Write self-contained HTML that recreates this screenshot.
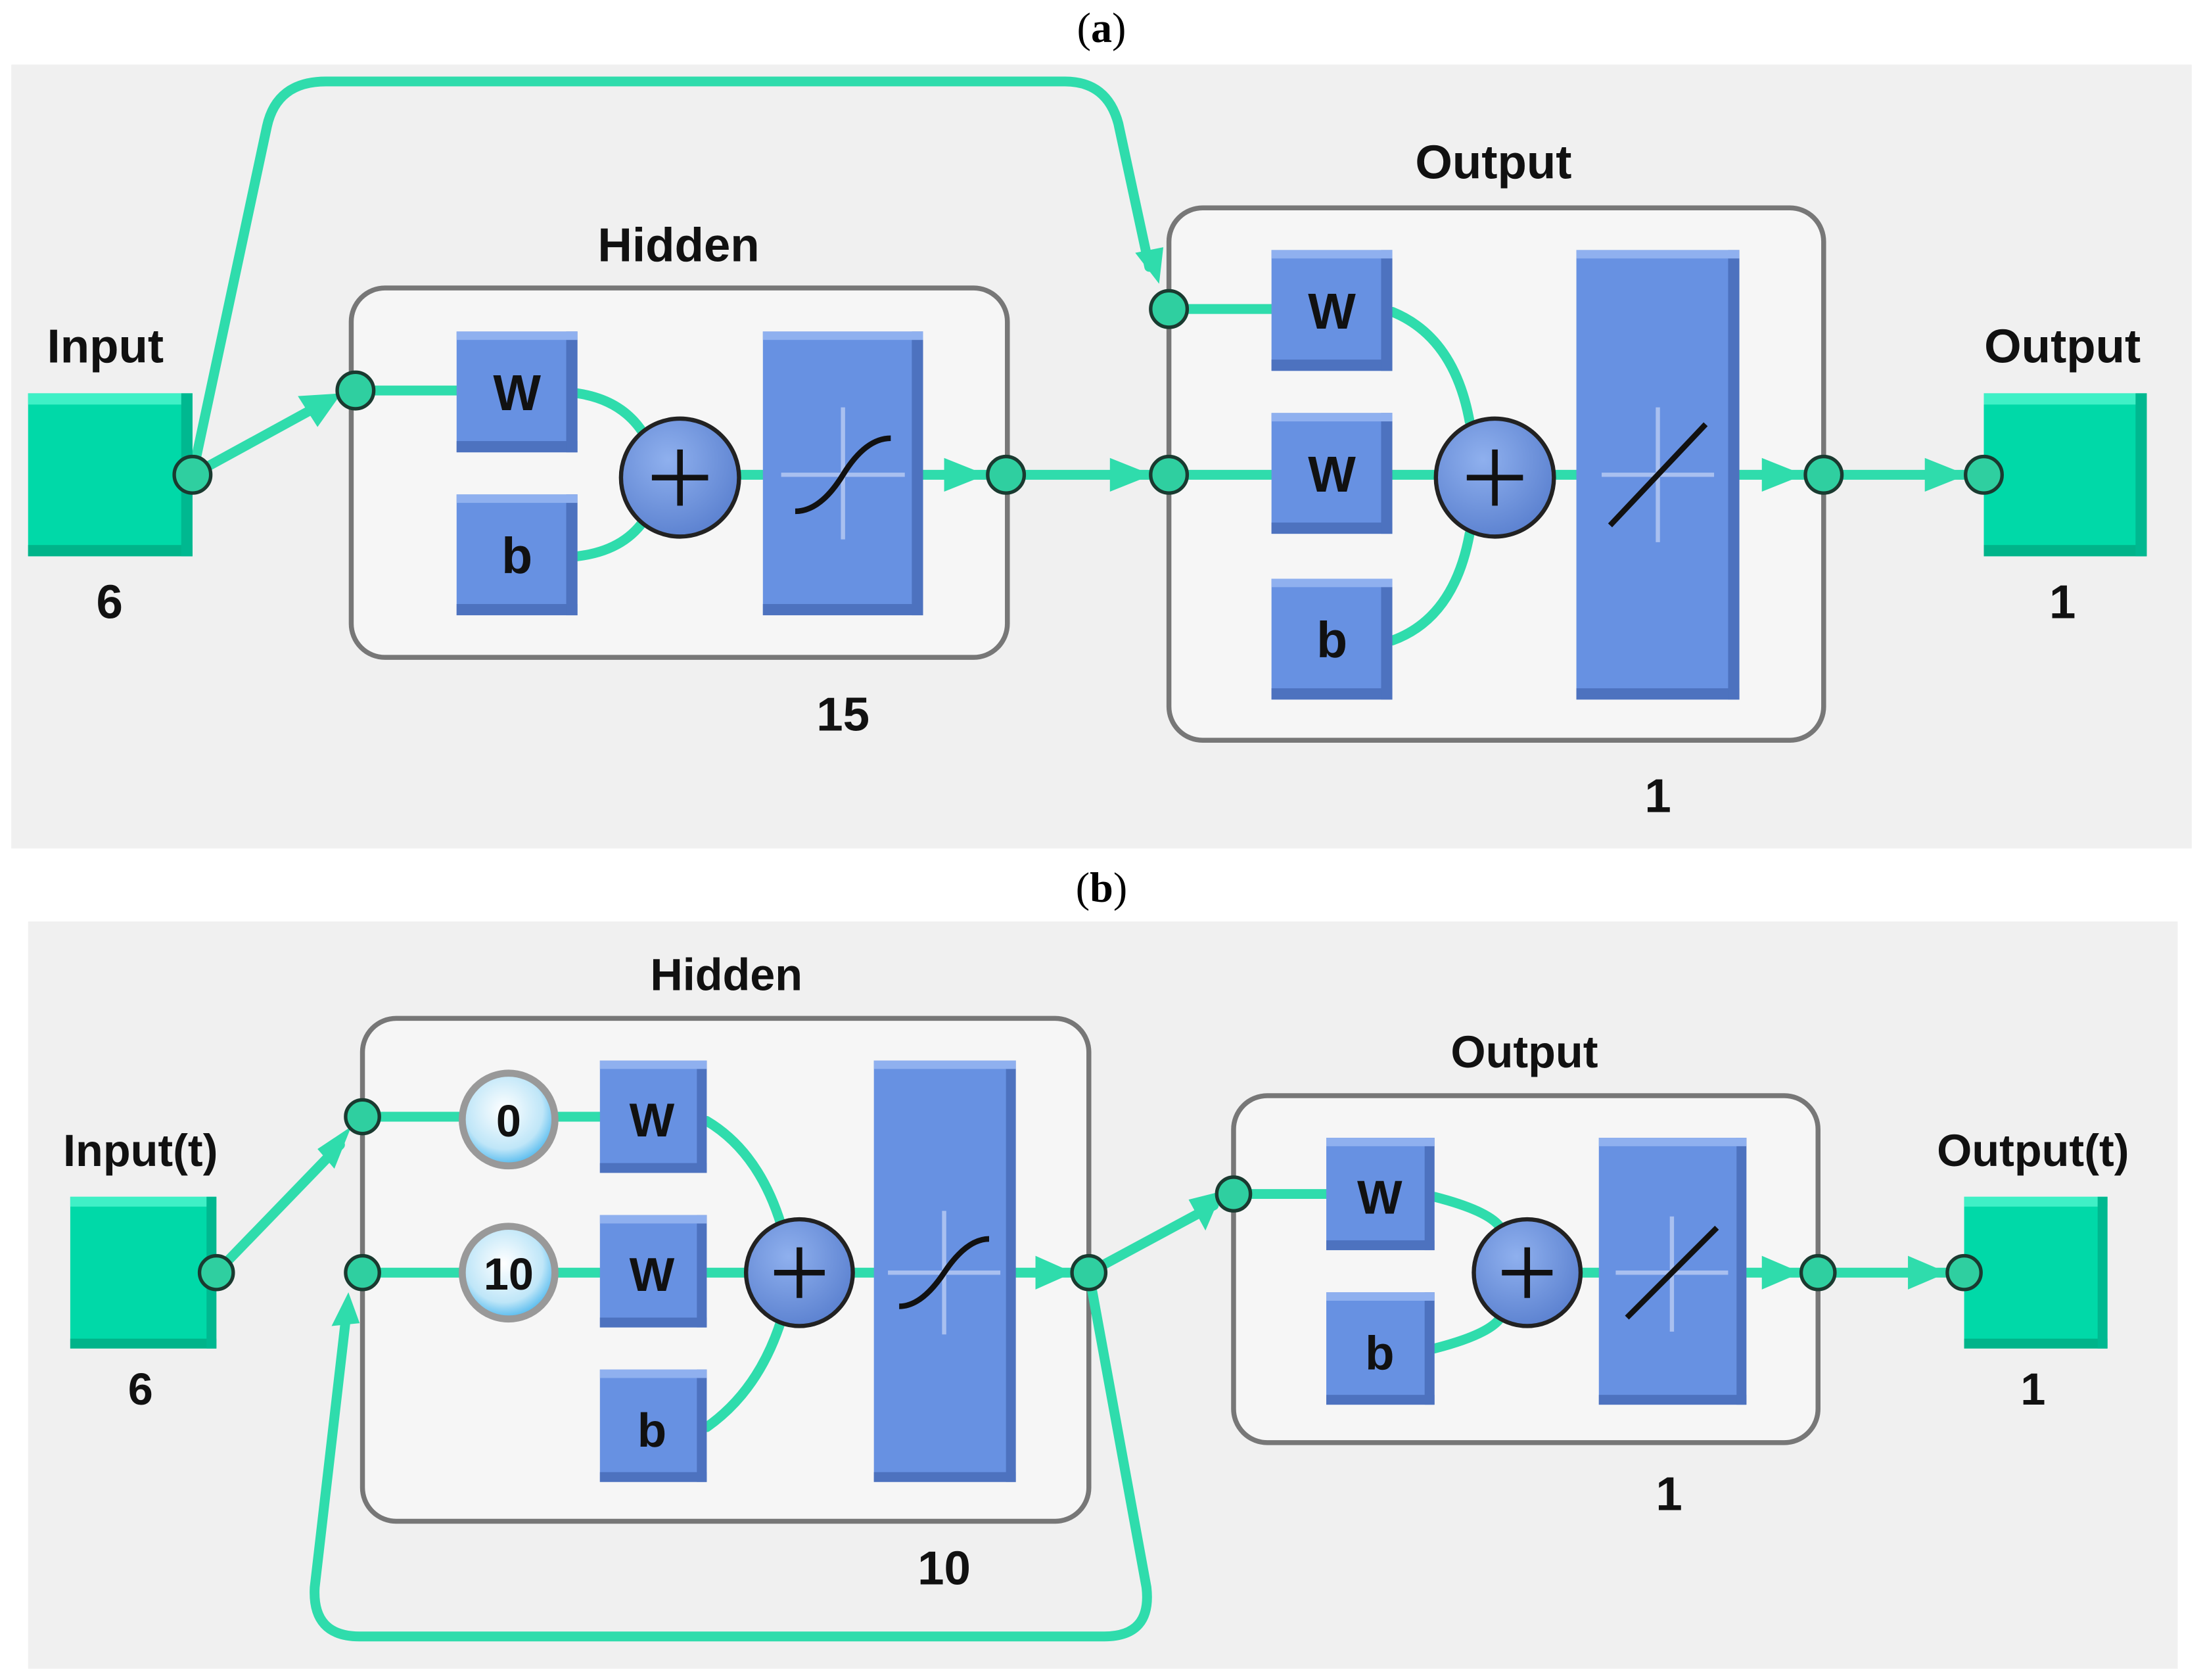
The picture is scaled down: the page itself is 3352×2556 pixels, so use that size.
<!DOCTYPE html>
<html><head><meta charset="utf-8"><style>
html,body{margin:0;padding:0;background:#fff;}
svg{display:block;}
.l{font-family:"Liberation Sans",sans-serif;font-weight:bold;fill:#111;text-anchor:middle;}
.s{font-family:"Liberation Serif",serif;fill:#000;text-anchor:middle;font-size:30px;}
.c{stroke:#2fdcac;stroke-width:7;fill:none;stroke-linecap:round;stroke-linejoin:round;}
.bx{fill:#f6f6f6;stroke:#777;stroke-width:3.5;}
</style></head><body>
<svg width="3352" height="2556" viewBox="0 0 1568 1196" preserveAspectRatio="none" xmlns="http://www.w3.org/2000/svg">
<defs>
<radialGradient id="dg" cx="0.45" cy="0.4" r="0.6"><stop offset="0" stop-color="#ffffff"/><stop offset="0.7" stop-color="#bfe6f8"/><stop offset="1" stop-color="#4fb8ee"/></radialGradient>
<radialGradient id="pg" cx="0.4" cy="0.35" r="0.7"><stop offset="0" stop-color="#8fb0ee"/><stop offset="1" stop-color="#5a80cf"/></radialGradient>
</defs>
<rect width="1568" height="1196" fill="#fff"/>
<text class="s" x="784" y="30">(<tspan font-weight="bold">a</tspan>)</text>
<text class="s" x="784" y="642">(<tspan font-weight="bold">b</tspan>)</text>
<rect x="8" y="46" width="1552" height="558" fill="#f0f0f0"/>
<rect x="20" y="656" width="1530" height="532" fill="#f0f0f0"/>

<!-- ===== Panel A ===== -->
<rect class="bx" x="250" y="205" width="467" height="263" rx="24"/>
<rect class="bx" x="832" y="148" width="466" height="379" rx="24"/>
<text class="l" x="483" y="186" font-size="34">Hidden</text>
<text class="l" x="1063" y="127" font-size="34">Output</text>
<text class="l" x="75" y="258" font-size="34">Input</text>
<text class="l" x="1468" y="258" font-size="34">Output</text>
<text class="l" x="78" y="440" font-size="34">6</text>
<text class="l" x="1468" y="440" font-size="34">1</text>
<text class="l" x="600" y="520" font-size="34">15</text>
<text class="l" x="1180" y="578" font-size="34">1</text>

<!-- connectors A -->
<path class="c" d="M137 338 L190 90 Q197 58 232 58 L758 58 Q788 58 796 88 L818 190"/>
<polygon points="808,180 828,176 825,202" fill="#2fdcac"/>
<path class="c" d="M137 338 L232 286"/>
<polygon points="212,282 243,280 226,304" fill="#2fdcac"/>
<path class="c" d="M253 278 L330 278"/>
<path class="c" d="M411 280 Q445 285 460 312"/>
<path class="c" d="M411 396 Q445 392 460 368"/>
<path class="c" d="M526 338 L545 338"/>
<path class="c" d="M657 338 L704 338"/>
<polygon points="672,326 702,338 672,350" fill="#2fdcac"/>
<path class="c" d="M716 338 L820 338"/>
<polygon points="790,326 820,338 790,350" fill="#2fdcac"/>
<path class="c" d="M832 220 L906 220"/>
<path class="c" d="M832 338 L906 338"/>
<path class="c" d="M991 222 Q1035 240 1046 300"/>
<path class="c" d="M991 338 L1024 338"/>
<path class="c" d="M991 456 Q1035 440 1046 380"/>
<path class="c" d="M1106 338 L1124 338"/>
<path class="c" d="M1238 338 L1288 338"/>
<polygon points="1254,326 1284,338 1254,350" fill="#2fdcac"/>
<path class="c" d="M1298 338 L1402 338"/>
<polygon points="1370,326 1400,338 1370,350" fill="#2fdcac"/>

<!-- blocks A -->
<g id="sqIn">
<rect x="20" y="280" width="117" height="116" fill="#00d9a8"/>
<rect x="20" y="280" width="117" height="8" fill="#3ff0c6"/>
<rect x="20" y="388" width="117" height="8" fill="#00b48a"/>
<rect x="129" y="280" width="8" height="116" fill="#00b890"/>
</g>
<rect x="1412" y="280" width="116" height="116" fill="#00d9a8"/>
<rect x="1412" y="280" width="116" height="8" fill="#3ff0c6"/>
<rect x="1412" y="388" width="116" height="8" fill="#00b48a"/>
<rect x="1520" y="280" width="8" height="116" fill="#00b890"/>

<g fill="#6791e2">
<rect x="325" y="236" width="86" height="86"/><rect x="325" y="352" width="86" height="86"/>
<rect x="543" y="236" width="114" height="202"/>
<rect x="905" y="178" width="86" height="86"/><rect x="905" y="294" width="86" height="86"/><rect x="905" y="412" width="86" height="86"/>
<rect x="1122" y="178" width="116" height="320"/>
</g>
<g fill="#4d72bf">
<rect x="325" y="314" width="86" height="8"/><rect x="325" y="430" width="86" height="8"/><rect x="543" y="430" width="114" height="8"/><rect x="649" y="236" width="8" height="202"/>
<rect x="905" y="256" width="86" height="8"/><rect x="905" y="372" width="86" height="8"/><rect x="905" y="490" width="86" height="8"/>
<rect x="1122" y="490" width="116" height="8"/><rect x="1230" y="178" width="8" height="320"/>
<rect x="403" y="236" width="8" height="86"/><rect x="403" y="352" width="8" height="86"/><rect x="983" y="178" width="8" height="86"/><rect x="983" y="294" width="8" height="86"/><rect x="983" y="412" width="8" height="86"/>
</g>
<g fill="#8fb0ef">
<rect x="325" y="236" width="86" height="6"/><rect x="325" y="352" width="86" height="6"/><rect x="543" y="236" width="114" height="6"/>
<rect x="905" y="178" width="86" height="6"/><rect x="905" y="294" width="86" height="6"/><rect x="905" y="412" width="86" height="6"/><rect x="1122" y="178" width="116" height="6"/>
</g>
<g class="l" font-size="36">
<text x="368" y="292">W</text><text x="368" y="408">b</text>
<text x="948" y="234">W</text><text x="948" y="350">W</text><text x="948" y="468">b</text>
</g>
<g stroke="#a9c0f0" stroke-width="3"><line x1="600" y1="290" x2="600" y2="384"/><line x1="556" y1="338" x2="644" y2="338"/>
<line x1="1180" y1="290" x2="1180" y2="386"/><line x1="1140" y1="338" x2="1220" y2="338"/></g>
<path d="M566 364 Q584 364 600 338 Q616 312 634 312" stroke="#111" stroke-width="4" fill="none"/>
<line x1="1146" y1="374" x2="1214" y2="302" stroke="#111" stroke-width="4"/>
<g stroke="#222" stroke-width="3" fill="url(#pg)"><circle cx="484" cy="340" r="42"/><circle cx="1064" cy="340" r="42"/></g>
<g stroke="#111" stroke-width="4"><line x1="464" y1="340" x2="504" y2="340"/><line x1="484" y1="320" x2="484" y2="360"/>
<line x1="1044" y1="340" x2="1084" y2="340"/><line x1="1064" y1="320" x2="1064" y2="360"/></g>
<g fill="#2fcfa0" stroke="#1a3a30" stroke-width="2.5">
<circle cx="137" cy="338" r="13"/><circle cx="253" cy="278" r="13"/><circle cx="716" cy="338" r="13"/><circle cx="832" cy="338" r="13"/><circle cx="832" cy="220" r="13"/><circle cx="1298" cy="338" r="13"/><circle cx="1412" cy="338" r="13"/>
</g>

<!-- ===== Panel B ===== -->
<rect class="bx" x="258" y="725" width="517" height="358" rx="24"/>
<rect class="bx" x="878" y="780" width="416" height="247" rx="24"/>
<text class="l" x="517" y="705" font-size="32">Hidden</text>
<text class="l" x="1085" y="760" font-size="32">Output</text>
<text class="l" x="100" y="830" font-size="32">Input(t)</text>
<text class="l" x="1447" y="830" font-size="32">Output(t)</text>
<text class="l" x="100" y="1000" font-size="32">6</text>
<text class="l" x="1447" y="1000" font-size="32">1</text>
<text class="l" x="672" y="1128" font-size="34">10</text>
<text class="l" x="1188" y="1075" font-size="34">1</text>

<path class="c" d="M775 906 L816 1130 Q820 1165 786 1165 L256 1165 Q222 1165 224 1130 L246 940"/>
<polygon points="236,944 256,942 248,920" fill="#2fdcac"/>
<path class="c" d="M154 906 L242 815"/>
<polygon points="226,818 250,802 238,832" fill="#2fdcac"/>
<path class="c" d="M258 795 L430 795"/>
<path class="c" d="M258 906 L430 906"/>
<path class="c" d="M503 798 Q540 820 556 872"/>
<path class="c" d="M503 906 L532 906"/>
<path class="c" d="M503 1016 Q540 990 556 940"/>
<path class="c" d="M606 906 L624 906"/>
<path class="c" d="M723 906 L765 906"/>
<polygon points="737,894 764,906 737,918" fill="#2fdcac"/>
<path class="c" d="M775 906 L864 858"/>
<polygon points="846,854 870,848 858,876" fill="#2fdcac"/>
<path class="c" d="M878 850 L946 850"/>
<path class="c" d="M1021 852 Q1060 862 1068 874"/>
<path class="c" d="M1021 960 Q1060 950 1068 938"/>
<path class="c" d="M1125 906 L1140 906"/>
<path class="c" d="M1243 906 L1284 906"/>
<polygon points="1254,894 1282,906 1254,918" fill="#2fdcac"/>
<path class="c" d="M1294 906 L1388 906"/>
<polygon points="1358,894 1386,906 1358,918" fill="#2fdcac"/>

<rect x="50" y="852" width="104" height="108" fill="#00d9a8"/>
<rect x="50" y="852" width="104" height="7" fill="#3ff0c6"/>
<rect x="50" y="953" width="104" height="7" fill="#00b48a"/>
<rect x="147" y="852" width="7" height="108" fill="#00b890"/>
<rect x="1398" y="852" width="102" height="108" fill="#00d9a8"/>
<rect x="1398" y="852" width="102" height="7" fill="#3ff0c6"/>
<rect x="1398" y="953" width="102" height="7" fill="#00b48a"/>
<rect x="1493" y="852" width="7" height="108" fill="#00b890"/>

<g fill="#6791e2">
<rect x="427" y="755" width="76" height="80"/><rect x="427" y="865" width="76" height="80"/><rect x="427" y="975" width="76" height="80"/>
<rect x="622" y="755" width="101" height="300"/>
<rect x="944" y="810" width="77" height="80"/><rect x="944" y="920" width="77" height="80"/>
<rect x="1138" y="810" width="105" height="190"/>
</g>
<g fill="#4d72bf">
<rect x="427" y="828" width="76" height="7"/><rect x="427" y="938" width="76" height="7"/><rect x="427" y="1048" width="76" height="7"/>
<rect x="622" y="1048" width="101" height="7"/><rect x="716" y="755" width="7" height="300"/>
<rect x="944" y="883" width="77" height="7"/><rect x="944" y="993" width="77" height="7"/>
<rect x="1138" y="993" width="105" height="7"/><rect x="1236" y="810" width="7" height="190"/>
<rect x="496" y="755" width="7" height="80"/><rect x="496" y="865" width="7" height="80"/><rect x="496" y="975" width="7" height="80"/>
<rect x="1014" y="810" width="7" height="80"/><rect x="1014" y="920" width="7" height="80"/>
</g>
<g fill="#8fb0ef">
<rect x="427" y="755" width="76" height="6"/><rect x="427" y="865" width="76" height="6"/><rect x="427" y="975" width="76" height="6"/><rect x="622" y="755" width="101" height="6"/>
<rect x="944" y="810" width="77" height="6"/><rect x="944" y="920" width="77" height="6"/><rect x="1138" y="810" width="105" height="6"/>
</g>
<g class="l" font-size="34">
<text x="464" y="809">W</text><text x="464" y="919">W</text><text x="464" y="1030">b</text>
<text x="982" y="864">W</text><text x="982" y="975">b</text>
</g>
<g stroke="#a9c0f0" stroke-width="3"><line x1="672" y1="862" x2="672" y2="950"/><line x1="632" y1="906" x2="712" y2="906"/>
<line x1="1190" y1="866" x2="1190" y2="948"/><line x1="1150" y1="906" x2="1230" y2="906"/></g>
<path d="M640 930 Q656 930 672 906 Q688 882 704 882" stroke="#111" stroke-width="4" fill="none"/>
<line x1="1158" y1="938" x2="1222" y2="874" stroke="#111" stroke-width="4"/>
<g stroke="#999" stroke-width="5" fill="url(#dg)"><circle cx="362" cy="797" r="33"/><circle cx="362" cy="906" r="33"/></g>
<g class="l" font-size="32"><text x="362" y="809">0</text><text x="362" y="918">10</text></g>
<g stroke="#222" stroke-width="3" fill="url(#pg)"><circle cx="569" cy="906" r="38"/><circle cx="1087" cy="906" r="38"/></g>
<g stroke="#111" stroke-width="4"><line x1="551" y1="906" x2="587" y2="906"/><line x1="569" y1="888" x2="569" y2="924"/>
<line x1="1069" y1="906" x2="1105" y2="906"/><line x1="1087" y1="888" x2="1087" y2="924"/></g>
<g fill="#2fcfa0" stroke="#1a3a30" stroke-width="2.5">
<circle cx="154" cy="906" r="12"/><circle cx="258" cy="795" r="12"/><circle cx="258" cy="906" r="12"/><circle cx="775" cy="906" r="12"/><circle cx="878" cy="850" r="12"/><circle cx="1294" cy="906" r="12"/><circle cx="1398" cy="906" r="12"/>
</g>
</svg>
</body></html>
